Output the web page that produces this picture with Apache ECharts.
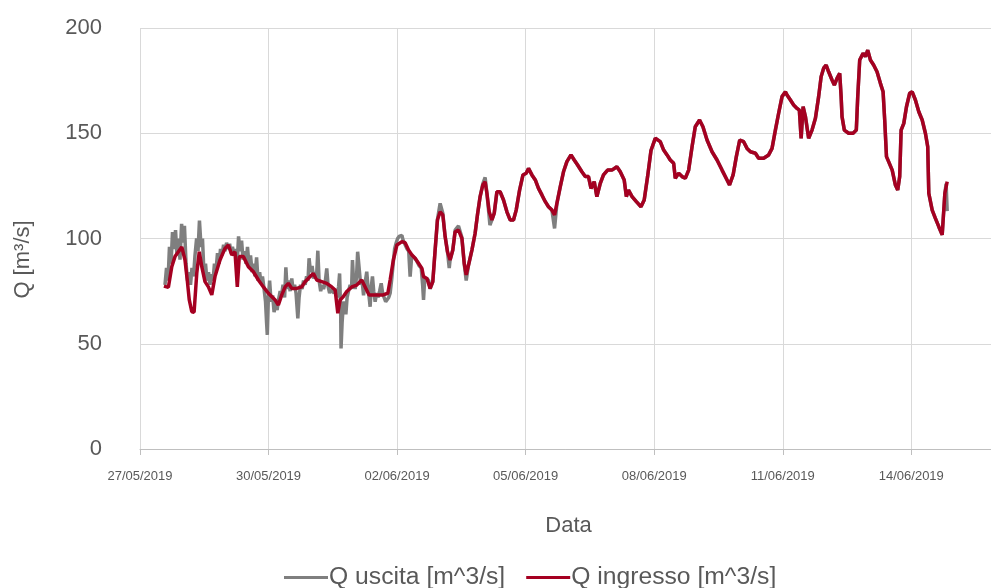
<!DOCTYPE html>
<html>
<head>
<meta charset="utf-8">
<script src="https://cdn.jsdelivr.net/npm/echarts@6.0.0/dist/echarts.min.js"></script>
<style>
html,body{margin:0;padding:0;background:#fff;}
#chart{width:991px;height:588px;}
</style>
</head>
<body>
<div id="chart"></div>
<script>
// time in hours since 27/05/2019 00:00, flow in m^3/s
var startDate = Date.UTC(2019, 4, 27);
var xTickHours = [0, 72, 144, 216, 288, 360, 432];
var yTicks = [0, 50, 100, 150, 200];
var seriesNames = ['Q uscita [m^3/s]', 'Q ingresso [m^3/s]'];

var ingresso = [
[13.4,77.4],[15.9,76.8],[17.8,86.6],[19.6,91.4],[23.4,96],[25.2,89.8],[26.5,80],[27.6,70.8],[29.0,65.2],[30.3,65],
[31.8,83.6],[33.2,93.7],[34.6,86.6],[36.4,79.5],[38.3,77],[40.2,73.2],[42.0,81.9],[44.8,89.8],[47.6,95.3],[49.5,96.9],
[51.4,92.2],[53.2,93.7],[54.5,77],[55.6,91.4],[57.9,91.4],[60.7,86.6],[63.5,84.2],[66.3,80.3],[69.1,77],[71.9,74],
[72.9,74],[75.7,70.8],[77.5,68.4],[79.4,73.2],[81.3,77],[83.1,78.7],[85.0,76.3],[87.8,76.3],[90.6,77],[92.5,79.5],
[95.3,81.9],[97.1,83.4],[99.0,80.3],[101.8,79.5],[104.6,78.7],[107.4,77],[109.3,75.5],[110.8,64.5],[112.1,70.8],[113.9,72.4],
[115.8,74.8],[118.6,77],[121.4,77.9],[124.2,80.3],[126.1,77],[128.3,73.2],[131.0,73.2],[133.5,73.2],[136.2,73.2],[138.8,74],
[140.1,80.3],[141.9,89.8],[143.9,96.9],[146.7,98.5],[148.5,98],[150.4,94.5],[152.3,92.2],[154.1,90.6],[156.0,88.2],[157.9,85.8],
[158.8,81.9],[160.7,81],[162.5,76.3],[164.0,79.5],[165.3,94.5],[166.6,108.8],[168.1,112.7],[169.6,111.2],[170.9,100.9],[172.2,93.7],
[173.7,89.8],[175.2,94.5],[176.5,103.2],[178.4,104],[180.3,100],[181.6,88.2],[182.7,82.7],[184.0,87.4],[185.9,94.5],[187.7,102.5],
[189.0,111.2],[190.5,119.9],[192.0,125.4],[193.3,127],[194.3,121.5],[195.6,112.7],[197.1,108.8],[198.4,112],[199.9,122.2],[201.7,122.2],
[203.6,118.3],[205.5,112.7],[207.3,108.8],[209.2,108.8],[210.7,113.5],[212.6,123],[214.5,130.2],[216.3,131],[217.6,133.3],[219.5,130.2],
[221.4,127.8],[223.2,123.8],[225.1,120.7],[227.0,117.5],[228.8,115.1],[230.7,113.5],[232.2,111.2],[233.5,116.7],[235.4,124.6],[237.2,131.7],
[239.1,136.5],[241.4,139.7],[243.2,137.3],[245.1,134.9],[247.5,131.7],[249.4,129.4],[251.2,129.4],[252.6,123.8],[254.4,127],[255.9,119.9],
[257.8,126.2],[259.6,130.2],[261.9,132.5],[264.3,132.5],[267.1,134.1],[269.0,131.7],[271.2,127.8],[272.4,119.9],[273.6,123],[275.6,119.9],
[278.0,117.5],[280.6,115.1],[282.4,118.3],[284.3,129.4],[286.2,141.8],[288.6,147.6],[289.6,147.1],[291.4,146],[293.3,142],[295.2,139.7],
[297.0,137.3],[298.9,135.7],[299.8,128.6],[301.7,131],[303.6,129.4],[305.4,128.6],[307.3,132.5],[309.2,143.6],[311.0,153.1],[313.4,156.3],
[315.3,153.1],[317.6,146.8],[320.4,141.2],[323.2,137.3],[326.0,132.5],[328.8,127.8],[330.2,125.4],[332.2,130.2],[334.0,138.9],[335.9,146.8],
[338.1,146],[340.0,142.8],[341.9,141.2],[344.7,140.5],[346.5,138.1],[349.3,138.1],[352.1,139.7],[354.0,142.8],[355.9,151.6],[357.7,159.5],
[359.6,167.4],[361.5,169.7],[362.4,168.2],[364.3,165.8],[366.1,163.4],[368.0,161.8],[369.3,161],[370.3,147.6],[371.4,162.6],[372.7,157.9],
[374.5,147.6],[376.4,151.5],[378.3,157.1],[380.1,167.4],[381.5,176.9],[382.9,180.9],[384.3,182.4],[385.7,179.2],[387.6,175.3],[388.9,172.9],
[390.4,176.1],[391.9,178.5],[392.7,167.4],[393.2,157.9],[394.5,151.5],[396.9,150],[399.4,150],[401.2,151.5],[402.0,167.4],[403.1,184.8],
[405.0,188],[406.3,186.4],[407.6,189.5],[409.1,184.8],[410.9,182.4],[412.8,179.2],[414.7,173.7],[416.2,169.7],[417.1,156.3],[418.1,138.9],
[419.3,136.5],[421.3,132.5],[423.1,125.4],[424.4,123],[425.5,129.4],[426.3,151.5],[427.8,154.7],[429.3,162.6],[431.1,169],[432.5,169.7],
[434.3,165.8],[436.2,160.2],[438.1,156.3],[439.9,150],[441.2,143.6],[441.8,121.5],[443.7,113.5],[445.5,109.6],[447.4,105.6],[449.3,101.7],
[450.2,102.5],[450.8,121.5],[452.1,127]
];

var uscita = [
[14.0,78],[14.85,86],[15.7,80],[16.5,96],[17.4,88],[18.2,103],[19.1,95],[19.9,104],[20.7,92],[21.6,100],
[22.4,90],[23.3,107],[24.1,98],[24.9,106],[25.8,88],[26.6,80],[27.5,84],[28.3,78],[29.1,86],[30.0,82],
[30.8,92],[31.7,100],[32.5,94],[33.3,108.5],[34.2,96],[35.0,100],[35.9,82],[36.7,88],[37.5,80],[38.4,84],
[39.2,78],[40.1,83],[40.9,80],[41.7,88],[42.6,85],[43.4,93],[44.3,88],[45.1,95],[46.0,92],[46.8,97],
[47.6,94],[48.5,98],[49.3,95],[50.2,97.5],[51.0,93],[51.8,96],[52.7,92],[53.5,95],[54.4,88],[55.2,101],
[56.0,94],[56.9,99],[57.7,90],[58.6,94],[59.4,88],[60.2,96],[61.1,87],[61.9,92],[62.8,84],[63.6,88],
[64.4,82],[65.3,91],[66.1,80],[67.0,84],[67.8,79],[68.6,82],[69.5,76],[70.3,70],[70.9,60],[71.3,54.2],
[71.9,72],[72.6,80],[73.4,70],[74.3,73],[75.1,65],[75.9,70],[76.8,66],[77.6,71],[78.5,75],
[79.3,73],[80.1,78],[81.0,72],[81.7,86.3],[82.4,76],[83.2,80],[84.1,75],[85.0,81],[85.7,76],[86.6,78],
[87.4,74],[88.4,62],[89.1,72],[89.9,78],[90.8,76],[91.6,80],[92.5,78],[93.3,82],[94.1,80],[94.7,90.6],
[95.5,84],[96.4,87],[97.2,81],[98.1,84],[98.9,82],[99.6,94.2],[100.3,80],[101.2,75],[102.0,78],[102.8,76],
[103.7,79],[104.6,85.8],[105.4,77],[106.2,74],[107.0,76],[107.9,75],[108.7,74],[109.6,76],[110.4,72],[111.2,77],
[111.8,83.4],[112.4,65],[112.6,47.8],[113.2,60],[114.0,70],[114.9,68],[115.3,64],[116.0,72],[116.8,75],[117.7,78],
[118.5,76],[119.0,89.8],[119.6,80],[120.5,76],[121.3,82],[121.9,93.7],[122.7,93.7],[123.6,78],[124.4,80],[125.2,73],
[126.1,79],[127.0,84.2],[127.8,76],[128.6,70],[128.9,67.6],[129.4,76],[130.2,82],[130.9,75],[131.7,70],[132.5,74],
[133.4,72],[134.2,75],[135.1,78.7],[135.9,74],[136.7,72],[137.6,70],[138.4,69.2],[139.3,72],[140.1,74],[140.9,80],
[141.8,88],[142.6,95],[143.5,98],[144.3,100],[145.1,101],[146.7,101.5],[147.4,99],[148.5,98.5],[149.6,95],[150.5,94],
[151.3,81.9],[152.2,92],[153.0,92.5],[154.1,90.5],[155.2,89],[156.4,87],[157.5,86],[158.3,78],[158.8,70.8],[159.4,80],
[160.7,81],[161.7,80],[162.5,76],[164.0,79.5],[165.3,94.5],[166.6,109],[168.1,116.7],[169.6,112],[170.9,101],[172.2,94],
[173.2,86],[173.7,90],[175.2,94.5],[176.5,104],[178.4,106],[180.3,100.5],
[181.6,88],[182.7,80],[184.0,87.4],[185.9,94.5],[187.7,102.5],[189.0,111.2],[190.5,119.9],[192.0,126],[193.3,129],[194.3,121.5],
[195.6,110],[196.0,106.4],[197.1,108.8],[198.4,112],[199.9,122.2],[201.7,122.2],[203.6,118.3],[205.5,112.7],[207.3,108.8],[209.2,108.8],
[210.7,113.5],[212.6,123],[214.5,130.2],[216.3,131],[217.6,133.3],[219.5,130.2],[221.4,127.8],[223.2,123.8],[225.1,120.7],[227.0,117.5],
[228.8,115.1],[230.7,113.5],[232.2,104.8],[233.5,116.7],[235.4,124.6],[237.2,131.7],[239.1,136.5],[241.4,139.7],[243.2,137.3],[245.1,134.9],
[247.5,131.7],[249.4,129.4],[251.2,129.4],[252.6,123.8],[254.4,127],[255.9,119.9],[257.8,126.2],[259.6,130.2],[261.9,132.5],[264.3,132.5],
[267.1,134.1],[269.0,131.7],[271.2,127.8],[272.4,119.9],[273.6,123],[275.6,119.9],[278.0,117.5],[280.6,115.1],[282.4,118.3],[284.3,129.4],
[286.2,141.8],[288.6,147.6],[289.6,147.1],[291.4,146],[293.3,142],[295.2,139.7],[297.0,137.3],[298.9,135.7],[299.8,128.6],[301.7,131],
[303.6,129.4],[305.4,128.6],[307.3,132.5],[309.2,143.6],[311.0,153.1],[313.4,156.3],[315.3,153.1],[317.6,146.8],[320.4,141.2],[323.2,137.3],
[326.0,132.5],[328.8,127.8],[330.2,125.4],[332.2,130.2],[334.0,138.9],[335.9,146.8],[338.1,146],[340.0,142.8],[341.9,141.2],[344.7,140.5],
[346.5,138.1],[349.3,138.1],[352.1,139.7],[354.0,142.8],[355.9,151.6],[357.7,159.5],[359.6,167.4],[361.5,169.7],[362.4,168.2],[364.3,165.8],
[366.1,163.4],[368.0,161.8],[369.3,161],[370.3,147.6],[371.4,162.6],[372.7,157.9],[374.5,147.6],[376.4,151.5],[378.3,157.1],[380.1,167.4],
[381.5,176.9],[382.9,180.9],[384.3,182.4],[385.7,179.2],[387.6,175.3],[388.9,172.9],[390.4,176.1],[391.9,178.5],[392.7,167.4],[393.2,157.9],
[394.5,151.5],[396.9,150],[399.4,150],[401.2,151.5],[402.0,167.4],[403.1,184.8],[405.0,188],[406.3,186.4],[407.6,189.5],[409.1,184.8],
[410.9,182.4],[412.8,179.2],[414.7,173.7],[416.2,169.7],[417.1,156.3],[418.1,138.9],[419.3,136.5],[421.3,132.5],[423.1,125.4],[424.4,123],
[425.5,129.4],[426.3,151.5],[427.8,154.7],[429.3,162.6],[431.1,169],[432.5,169.7],[434.3,165.8],[436.2,160.2],[438.1,156.3],[439.9,150],
[441.2,143.6],[441.8,121.5],[443.7,113.5],[445.5,109.6],[447.4,105.6],[449.3,101.7],[450.2,102.5],[450.8,121.5],[451.5,126],[452.1,113]
];

function pad(n){ return (n < 10 ? '0' : '') + n; }
function fmtDate(h){
  var d = new Date(startDate + h * 3600000);
  return pad(d.getUTCDate()) + '/' + pad(d.getUTCMonth() + 1) + '/' + d.getUTCFullYear();
}

var txt = '#595959';
var font = "'Liberation Sans', Arial, sans-serif";
var chart = echarts.init(document.getElementById('chart'));
chart.setOption({
  animation: false,
  backgroundColor: '#ffffff',
  textStyle: { fontFamily: font },
  grid: { left: 140, top: 28, width: 857, height: 421, containLabel: false, outerBoundsMode: 'none' },
  legend: {
    left: 279, top: 560,
    itemWidth: 44, itemHeight: 3, itemGap: 21, icon: 'rect',
    textStyle: { color: txt, fontSize: 24.7, fontFamily: font, padding: [0, 0, 0, -4] },
    data: seriesNames
  },
  xAxis: {
    type: 'value', min: 0, max: 480, interval: xTickHours[1] - xTickHours[0],
    name: 'Data', nameLocation: 'middle', nameGap: 66,
    nameTextStyle: { color: txt, fontSize: 22, fontFamily: font },
    axisLine: { show: true, lineStyle: { color: '#bfbfbf', width: 1 } },
    axisTick: { show: true, length: 6, lineStyle: { color: '#bfbfbf' } },
    splitLine: { show: true, lineStyle: { color: '#d9d9d9', width: 1 } },
    axisLabel: {
      color: txt, fontSize: 13, fontFamily: font, margin: 21,
      formatter: function (v) { return xTickHours.indexOf(v) >= 0 ? fmtDate(v) : ''; }
    }
  },
  yAxis: {
    type: 'value', min: yTicks[0], max: yTicks[yTicks.length - 1], interval: yTicks[1] - yTicks[0],
    name: 'Q [m³/s]', nameLocation: 'middle', nameGap: 106, nameRotate: 90,
    nameTextStyle: { color: txt, fontSize: 22, fontFamily: font, padding: [0, 42, 0, 0] },
    axisLine: { show: false },
    axisTick: { show: false },
    splitLine: { show: true, lineStyle: { color: '#d9d9d9', width: 1 } },
    axisLabel: { color: txt, fontSize: 22, fontFamily: font, margin: 38 }
  },
  series: [
    {
      name: seriesNames[0], type: 'line', data: uscita,
      showSymbol: false, symbol: 'none',
      lineStyle: { color: '#7f7f7f', width: 3.5 }, itemStyle: { color: '#7f7f7f' },
      z: 2
    },
    {
      name: seriesNames[1], type: 'line', data: ingresso,
      showSymbol: false, symbol: 'none',
      lineStyle: { color: '#a50021', width: 3.5 }, itemStyle: { color: '#a50021' },
      z: 3
    }
  ]
});
</script>
</body>
</html>
